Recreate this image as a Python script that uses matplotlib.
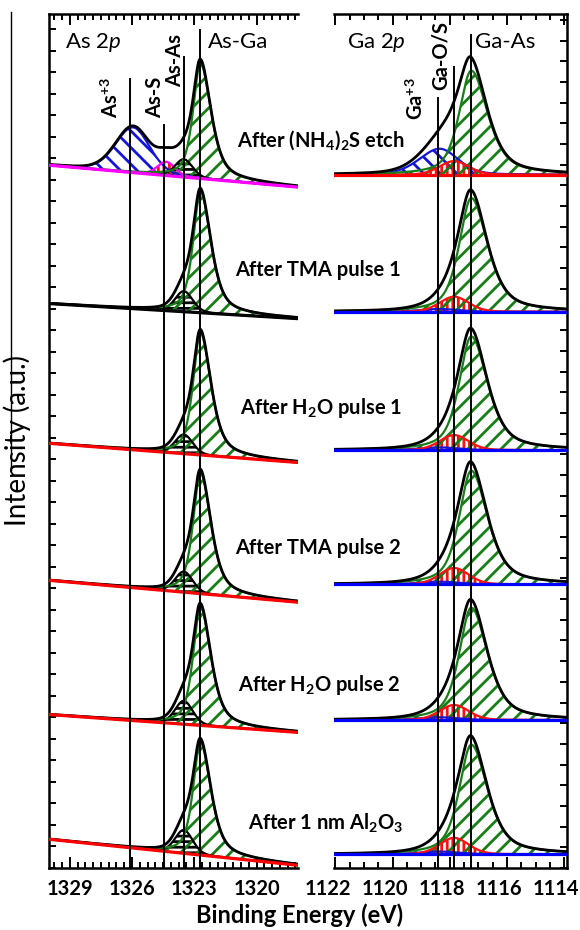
import numpy as np
import matplotlib
matplotlib.use('Agg')
import matplotlib.pyplot as plt
import matplotlib.transforms as mtransforms
from matplotlib.ticker import MultipleLocator

plt.rcParams['font.family'] = ['Lato', 'DejaVu Sans']
plt.rcParams['mathtext.fontset'] = 'custom'
plt.rcParams['mathtext.rm'] = 'Lato'
plt.rcParams['mathtext.it'] = 'Lato:italic'
plt.rcParams['mathtext.bf'] = 'Lato:bold'
plt.rcParams['hatch.linewidth'] = 2.0

# etapas do processo (de cima para baixo)
etapas = ['After (NH$_\\mathbf{4}$)$_\\mathbf{2}$S etch', 'After TMA pulse 1',
          'After H$_\\mathbf{2}$O pulse 1', 'After TMA pulse 2',
          'After H$_\\mathbf{2}$O pulse 2', 'After 1 nm Al$_\\mathbf{2}$O$_\\mathbf{3}$']

# As 2p: posicoes das linhas de referencia (eV)
as_nomes = ['As$^\\mathbf{+3}$', 'As-S', 'As-As', 'As-Ga']
as_pos = [1326.1, 1324.45, 1323.5, 1322.7]
# fundo linear (valor em 1330 eV e em 1318 eV)
as_fundo_alto = [5.13, 4.12, 3.10, 2.10, 1.12, 0.21]
as_fundo_baixo = [4.97, 4.01, 2.96, 1.94, 0.99, 0.02]
# alturas das componentes
as3_h = [0.33, 0, 0, 0, 0, 0]
ass_h = [0.10, 0, 0, 0, 0, 0]
asas_h = [0.13, 0.15, 0.14, 0.15, 0.17, 0.17]
asga_h = [0.84, 0.88, 0.89, 0.88, 0.86, 0.82]

# Ga 2p
ga_nomes = ['Ga$^\\mathbf{+3}$', 'Ga-O/S', 'Ga-As']
ga_pos = [1118.42, 1117.85, 1117.25]
ga_fundo = [5.06, 4.06, 3.05, 2.07, 1.08, 0.10]
ga3_h = [0.19, 0.02, 0.02, 0.02, 0.02, 0.02]
gaos_h = [0.10, 0.11, 0.11, 0.12, 0.11, 0.12]
gaas_h = [0.76, 0.83, 0.83, 0.83, 0.82, 0.80]

cor_fundo_as = ['#ff00ff', 'black', 'red', 'red', 'red', 'red']
cor_fundo_ga = ['red', 'blue', 'blue', 'blue', 'blue', 'blue']

verde = '#177d17'
azul = '#1515d8'
vermelho = '#ff1010'


def pv(e, c, wl, wr, eta):
    """pseudo-Voigt assimetrico, wl = lado de maior energia"""
    w = np.where(e > c, wl, wr)
    u = (e - c) / w
    return eta / (1 + u**2) + (1 - eta) * np.exp(-np.log(2) * u**2)


fig = plt.figure(figsize=(5.8, 9.3), dpi=100)
W, H = 580.0, 930.0
ax1 = fig.add_axes([49 / W, 1 - 868 / H, (298 - 49) / W, 854 / H])
ax2 = fig.add_axes([334 / W, 1 - 868 / H, (567 - 334) / W, 854 / H])

e1 = np.linspace(1330, 1318, 800)
e2 = np.linspace(1122.05, 1113.9, 800)

for i in range(6):
    # ---- As 2p ----
    fundo = as_fundo_alto[i] + (as_fundo_baixo[i] - as_fundo_alto[i]) * (1330 - e1) / 12
    comps = [
        (as3_h[i] * pv(e1, 1325.95, 1.0, 0.95, 0.2), azul, azul, '\\\\'),
        (ass_h[i] * pv(e1, 1324.35, 0.5, 0.5, 0.2), vermelho, '#ff00ff', '|||'),
        (asas_h[i] * pv(e1, as_pos[2], 0.5, 0.5, 0.2), 'black', 'black', '---'),
        (asga_h[i] * pv(e1, as_pos[3], 0.42, 0.6, 0.6), verde, verde, '//'),
    ]
    total = fundo.copy()
    for y, ch, cl, hc in comps:
        if y.max() <= 0:
            continue
        ax1.fill_between(e1, fundo, fundo + y, facecolor='none', edgecolor=ch,
                         hatch=hc, linewidth=0, zorder=1)
        ax1.plot(e1, fundo + y, color=cl, lw=1.6, zorder=2)
        total = total + y
    ax1.plot(e1, total, color='black', lw=2.0, zorder=3)
    ax1.plot(e1, fundo, color=cor_fundo_as[i], lw=2.3, zorder=4)

    # ---- Ga 2p ----
    fundo = np.full_like(e2, ga_fundo[i])
    comps = [
        (ga3_h[i] * pv(e2, 1118.35, 0.85, 0.75, 0.3), azul, azul, '\\\\'),
        (gaos_h[i] * pv(e2, ga_pos[1], 0.6, 0.6, 0.2), vermelho, vermelho, '|||'),
        (gaas_h[i] * pv(e2, ga_pos[2], 0.5, 0.68, 0.6), verde, verde, '//'),
    ]
    total = fundo.copy()
    for y, ch, cl, hc in comps:
        ax2.fill_between(e2, fundo, fundo + y, facecolor='none', edgecolor=ch,
                         hatch=hc, linewidth=0, zorder=1)
        ax2.plot(e2, fundo + y, color=cl, lw=1.6, zorder=2)
        total = total + y
    ax2.plot(e2, total, color='black', lw=2.0, zorder=3)
    ax2.plot(e2, fundo, color=cor_fundo_ga[i], lw=2.3, zorder=4)

# linhas verticais de referencia
for x, topo in zip(as_pos, [0.924, 0.870, 0.950, 0.981]):
    ax1.axvline(x, 0, topo, color='black', lw=1.4, zorder=5)
for x, topo in zip(ga_pos, [0.902, 0.938, 0.975]):
    ax2.axvline(x, 0, topo, color='black', lw=1.4, zorder=5)

ax1.set_xlim(1330, 1318)
ax2.set_xlim(1122.05, 1113.9)
for ax in (ax1, ax2):
    ax.set_ylim(0, 854 / 137)
    for s in ax.spines.values():
        s.set_linewidth(1.8)
ax1.spines['right'].set_visible(False)
ax2.spines['left'].set_visible(False)

ax1.xaxis.set_major_locator(MultipleLocator(3))
ax1.xaxis.set_minor_locator(MultipleLocator(0.375))
ax2.xaxis.set_major_locator(MultipleLocator(2))
ax2.xaxis.set_minor_locator(MultipleLocator(0.5))
ax1.yaxis.set_major_locator(MultipleLocator(0.157))
ax2.yaxis.set_major_locator(MultipleLocator(0.151))
for ax in (ax1, ax2):
    ax.tick_params(axis='x', which='both', direction='in', top=True, width=1.4)
    ax.tick_params(axis='x', which='major', length=8, labelsize=14.5, pad=8)
    ax.tick_params(axis='x', which='minor', length=4)
    ax.set_yticklabels([])
ax1.tick_params(axis='y', direction='in', left=True, right=False, length=5, width=1.4)
ax2.tick_params(axis='y', direction='in', left=False, right=True, length=5, width=1.4)
for lab in ax1.get_xticklabels() + ax2.get_xticklabels():
    lab.set_fontweight('bold')
desloc = mtransforms.ScaledTranslation(-8 / 100, 0, fig.dpi_scale_trans)
for lab in ax2.get_xticklabels():
    lab.set_transform(lab.get_transform() + desloc)

# rotulos
fig.text(65 / W, 1 - 42 / H, 'As 2$p$', fontsize=16, va='center')
fig.text(208 / W, 1 - 42 / H, 'As-Ga', fontsize=16, va='center')
fig.text(347 / W, 1 - 42 / H, 'Ga 2$p$', fontsize=16, va='center')
fig.text(475 / W, 1 - 42 / H, 'Ga-As', fontsize=16, va='center')
for txt, x, y in zip(as_nomes[:3], [111, 155, 175], [118, 118, 87]):
    fig.text(x / W, 1 - y / H, txt, rotation=90, ha='center', va='bottom',
             fontsize=14.5, fontweight='bold')
for txt, x, y in zip(ga_nomes[:2], [416, 441], [120, 90]):
    fig.text(x / W, 1 - y / H, txt, rotation=90, ha='center', va='bottom',
             fontsize=14.5, fontweight='bold')

for txt, x, y in zip(etapas, [237, 235, 240, 235, 238, 248], [140, 270, 408, 548, 685, 823]):
    fig.text(x / W, 1 - y / H, txt, fontsize=14.5, fontweight='bold', va='center')

fig.text(17 / W, 1 - 440 / H, 'Intensity (a.u.)', rotation=90, ha='center',
         va='center', fontsize=20)
fig.text(300 / W, 1 - 915 / H, 'Binding Energy (eV)', ha='center', va='center',
         fontsize=17, fontweight='bold')
fig.add_artist(plt.Line2D([11 / W, 11 / W], [1 - 12 / H, 1 - 470 / H],
                          color='black', lw=1.0))

fig.savefig('out.png', dpi=100)
